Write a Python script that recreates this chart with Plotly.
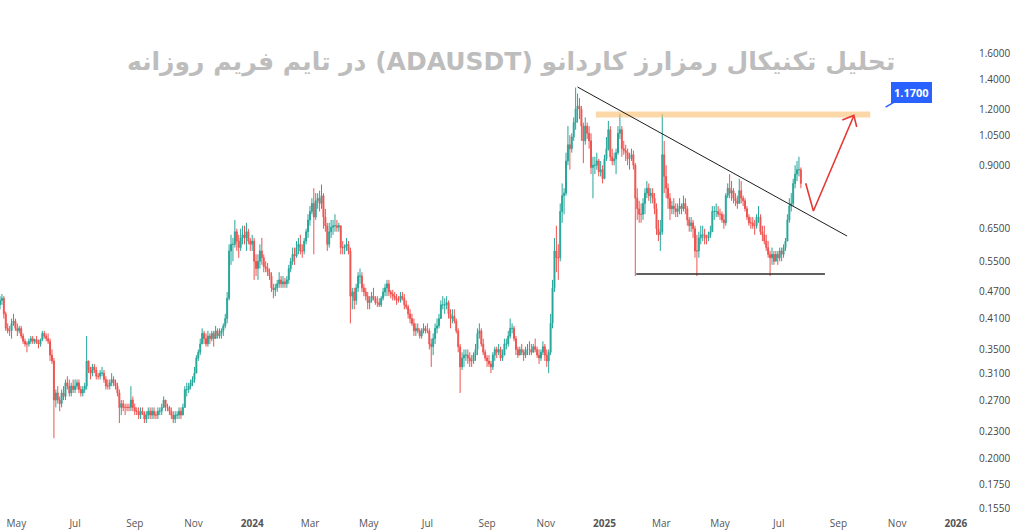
import math
import pandas as pd
import plotly.graph_objects as go

# ---------------- data (2-day candles, ADAUSDT) ----------------
START = "2023-04-14"
first_open = 0.44

close = [
    .45, .455, .42, .39, .385, .385, .40, .405, .39,
    .385, .39, .375, .365, .36, .36, .365, .37, .365, .368, .362, .36, .368, .38, .375,
    .37, .365, .34, .33, .27, .28, .27, .265, .28, .275, .295, .29, .28, .29, .285,
    .29, .295, .285, .28, .285, .29, .33, .315, .31, .32, .315, .305, .305, .31, .31, .30,
    .29, .29, .295, .30, .295, .29, .28, .26, .265, .26, .26, .26, .26, .27, .26,
    .255, .255, .25, .255, .252, .245, .25, .255, .25, .255, .25, .25, .255, .255, .26,
    .27, .26, .26, .255, .25, .245, .25, .25, .255, .25, .26, .285, .285, .29, .295, .30,
    .31, .335, .345, .36, .38, .37, .36, .375, .37, .38, .37, .385, .375, .38, .385,
    .395, .41, .455, .58, .60, .60, .64, .61, .59, .62, .63, .62, .64, .61, .60,
    .61, .55, .53, .55, .58, .56, .535, .53, .52, .51, .48, .475, .48, .49, .50, .49,
    .495, .49, .50, .53, .55, .57, .565, .59, .60, .58, .58, .61, .64, .68,
    .71, .74, .69, .75, .76, .74, .77, .69, .66, .60, .64, .655, .66, .66, .655, .66,
    .59, .59, .595, .60, .58, .46, .47, .45, .48, .51, .51, .48, .47, .46, .445,
    .45, .46, .455, .445, .445, .44, .455, .47, .48, .49, .47, .465, .46, .455, .45,
    .45, .46, .455, .44, .435, .42, .41, .40, .385, .39, .385, .375, .385, .39, .385,
    .385, .36, .355, .37, .39, .395, .41, .44, .44, .44, .445, .42, .41, .415, .405, .385,
    .355, .32, .335, .34, .34, .335, .33, .33, .34, .35, .38, .385, .36, .345, .335,
    .33, .325, .32, .34, .35, .345, .35, .335, .34, .36, .36, .375, .39, .39, .37,
    .35, .34, .35, .345, .34, .35, .35, .35, .345, .355, .35, .34, .335, .345, .355, .34,
    .33, .345, .40, .48, .58, .56, .56, .71, .77, .78, .92, 1.00, .98, 1.04, 1.12,
    1.20, 1.22, 1.20, 1.10, 1.02, 1.10, 1.06, 1.02, .89, .90, .90, .92, .87, .88, .84,
    .93, .98, 1.08, .94, .92, .93, .96, 1.06, 1.08, .98, .97, .96, .93, .93, .95, .90,
    .76, .72, .70, .70, .74, .78, .80, .77, .78, .76, .72, .65, .63, .64,
    .95, .85, .80, .76, .72, .73, .72, .71, .72, .73, .72, .74, .72, .68, .66,
    .67, .65, .58, .58, .62, .63, .63, .62, .62, .63, .64, .71, .71, .71, .70,
    .70, .68, .67, .77, .80, .78, .79, .76, .75, .74, .79, .76, .75, .72, .69, .67,
    .67, .66, .66, .69, .69, .64, .63, .61, .59, .57, .56, .57, .55, .57, .56,
    .58, .57, .59, .61, .68, .73, .74, .82, .86, .88, .88, .82,
]

high = [
    .46, .465, .46, .425, .40, .395, .41, .42, .41,
    .40, .395, .395, .38, .37, .365, .37, .375, .375, .37, .375, .368, .37, .385, .385,
    .38, .38, .37, .35, .335, .285, .29, .275, .285, .29, .30, .305, .30, .295, .30,
    .30, .30, .30, .29, .29, .295, .375, .33, .32, .325, .325, .32, .31, .315, .32, .315,
    .305, .30, .30, .31, .305, .30, .295, .285, .27, .27, .265, .265, .265, .29, .275,
    .265, .26, .26, .26, .26, .255, .255, .26, .26, .26, .26, .255, .26, .26, .265,
    .275, .27, .265, .262, .26, .255, .255, .255, .26, .26, .265, .29, .295, .295, .30, .305,
    .32, .34, .35, .37, .39, .385, .38, .385, .38, .385, .385, .395, .39, .39, .39,
    .40, .42, .47, .60, .63, .62, .68, .65, .63, .65, .66, .66, .67, .65, .62,
    .63, .62, .57, .57, .60, .62, .57, .55, .545, .53, .52, .49, .49, .50, .52, .51,
    .51, .505, .51, .54, .56, .59, .59, .61, .62, .63, .60, .62, .65, .70,
    .73, .76, .80, .78, .78, .79, .815, .78, .72, .67, .67, .68, .68, .70, .68, .67,
    .66, .61, .60, .62, .61, .59, .48, .48, .49, .52, .53, .52, .49, .48, .47,
    .46, .47, .48, .46, .46, .455, .46, .48, .49, .50, .50, .475, .475, .47, .465,
    .46, .47, .47, .465, .45, .44, .43, .42, .41, .40, .40, .39, .39, .40, .395,
    .40, .39, .37, .38, .40, .41, .42, .45, .46, .455, .46, .45, .43, .43, .43, .41,
    .39, .36, .345, .35, .35, .35, .345, .34, .345, .36, .39, .40, .39, .37, .35,
    .34, .34, .33, .345, .355, .355, .36, .355, .35, .37, .37, .385, .41, .40, .395,
    .375, .355, .355, .36, .35, .355, .36, .365, .36, .36, .37, .355, .35, .35, .365, .36,
    .35, .35, .42, .50, .62, .66, .60, .74, .82, .80, .96, 1.10, 1.05, 1.06, 1.15,
    1.34, 1.30, 1.27, 1.22, 1.12, 1.15, 1.12, 1.10, 1.06, .94, .94, .96, .93, .92, .90,
    .95, 1.04, 1.13, 1.10, .98, .96, .98, 1.10, 1.17, 1.10, 1.02, 1.00, .98, .96, .98, .97,
    .91, .80, .75, .74, .76, .80, .83, .82, .80, .80, .78, .74, .68, .68,
    1.17, 1.02, .90, .82, .78, .75, .76, .74, .74, .76, .74, .77, .76, .73, .69,
    .69, .68, .66, .63, .64, .66, .66, .65, .63, .64, .66, .73, .73, .74, .73,
    .72, .71, .70, .78, .82, .86, .83, .80, .78, .77, .84, .83, .77, .76, .73, .70,
    .69, .69, .68, .70, .73, .70, .66, .66, .63, .61, .58, .59, .58, .58, .58,
    .59, .59, .60, .62, .70, .76, .78, .84, .90, .92, .94, .89,
]

low = [
    .43, .44, .41, .385, .38, .375, .37, .395, .385,
    .375, .38, .37, .36, .355, .345, .355, .36, .36, .36, .36, .352, .355, .365, .37,
    .365, .36, .33, .325, .222, .26, .265, .255, .26, .27, .27, .285, .275, .275, .28,
    .28, .285, .28, .275, .275, .28, .285, .31, .30, .305, .31, .30, .30, .30, .305, .295,
    .285, .285, .285, .29, .29, .285, .275, .24, .25, .255, .25, .255, .255, .255, .255,
    .25, .25, .245, .245, .25, .24, .24, .245, .245, .245, .245, .245, .245, .25, .25,
    .26, .255, .255, .25, .245, .24, .24, .245, .245, .245, .25, .26, .275, .28, .285, .29,
    .295, .31, .33, .34, .36, .36, .355, .355, .36, .365, .355, .37, .37, .37, .37,
    .375, .39, .40, .45, .54, .55, .59, .58, .56, .58, .60, .60, .58, .60, .58,
    .58, .50, .51, .50, .53, .54, .52, .52, .51, .50, .47, .455, .46, .47, .48, .48,
    .48, .48, .48, .49, .52, .54, .54, .56, .57, .57, .56, .57, .60, .62,
    .66, .70, .57, .68, .72, .71, .72, .65, .64, .58, .59, .62, .63, .64, .64, .64,
    .57, .57, .57, .58, .57, .40, .43, .43, .44, .47, .49, .47, .46, .45, .43,
    .43, .445, .45, .44, .435, .435, .435, .45, .46, .46, .46, .455, .45, .45, .44,
    .445, .445, .45, .43, .43, .41, .40, .395, .375, .375, .38, .37, .37, .38, .38,
    .38, .35, .32, .34, .36, .38, .39, .41, .43, .42, .43, .41, .39, .40, .40, .38,
    .345, .28, .315, .32, .33, .325, .32, .32, .325, .33, .34, .37, .355, .34, .33,
    .32, .32, .31, .315, .33, .335, .34, .33, .33, .34, .35, .355, .37, .38, .365,
    .34, .335, .34, .34, .33, .335, .34, .34, .34, .345, .345, .335, .325, .33, .34, .33,
    .32, .31, .34, .39, .47, .52, .50, .55, .67, .70, .77, .90, .88, .96, 1.02,
    1.08, 1.12, 1.14, 1.02, .91, 1.00, 1.03, .98, .86, .76, .86, .88, .85, .85, .82,
    .84, .92, .97, .92, .90, .90, .86, .95, 1.03, .94, .95, .92, .90, .88, .92, .88,
    .51, .68, .67, .67, .68, .70, .76, .75, .74, .74, .70, .63, .61, .58,
    .63, .78, .76, .72, .68, .70, .70, .69, .69, .70, .70, .71, .70, .66, .64,
    .64, .62, .56, .51, .56, .60, .61, .60, .60, .61, .62, .64, .68, .69, .69,
    .68, .67, .65, .66, .76, .76, .75, .74, .73, .72, .74, .74, .73, .71, .68, .66,
    .65, .65, .63, .65, .67, .63, .61, .60, .58, .56, .51, .54, .54, .55, .54,
    .55, .55, .56, .58, .61, .67, .71, .73, .80, .83, .85, .80,
]

# axis ticks
y_ticks = [0.155, 0.175, 0.20, 0.23, 0.27, 0.31, 0.35, 0.41, 0.47, 0.55,
           0.65, 0.90, 1.05, 1.20, 1.40, 1.60]
x_tick_dates = ["2023-05-01", "2023-07-01", "2023-09-01", "2023-11-01", "2024-01-01",
                "2024-03-01", "2024-05-01", "2024-07-01", "2024-09-01", "2024-11-01",
                "2025-01-01", "2025-03-01", "2025-05-01", "2025-07-01", "2025-09-01",
                "2025-11-01", "2026-01-01"]
x_tick_text = ["May", "Jul", "Sep", "Nov", "<b>2024</b>", "Mar", "May", "Jul", "Sep",
               "Nov", "<b>2025</b>", "Mar", "May", "Jul", "Sep", "Nov", "<b>2026</b>"]

# drawings (date, price)
trend_x, trend_y = ["2024-12-04", "2025-09-10"], [1.344, 0.626]
support_x, support_y = ["2025-02-03", "2025-08-18"], [0.515, 0.515]
band_x, band_y = ["2024-12-23", "2025-10-04"], [1.168, 1.168]
arrow_x, arrow_y = ["2025-07-29", "2025-08-06", "2025-09-17"], [0.821, 0.712, 1.160]
head_x, head_y = ["2025-09-05", "2025-09-17", "2025-09-20"], [1.135, 1.162, 1.095]
label_x, label_y, label_text = "2025-10-20", 1.213, "1.1700"
title_text = "تحلیل تکنیکال رمزارز کاردانو (ADAUSDT) در تایم فریم روزانه"

# ---------------- figure ----------------
dates = pd.date_range(START, periods=len(close), freq="2D")
open_ = [first_open] + close[:-1]

UP, DOWN = "#26a69a", "#ef5350"
BLUE = "#2962ff"

fig = go.Figure()
fig.add_trace(go.Candlestick(
    x=dates, open=open_, high=high, low=low, close=close,
    increasing=dict(line=dict(color=UP, width=1), fillcolor=UP),
    decreasing=dict(line=dict(color=DOWN, width=1), fillcolor=DOWN),
    whiskerwidth=0, showlegend=False, hoverinfo="skip"))

fig.add_trace(go.Scatter(x=band_x, y=band_y, mode="lines",
                         line=dict(color="rgba(250,190,110,0.6)", width=6),
                         showlegend=False, hoverinfo="skip"))
fig.add_trace(go.Scatter(x=trend_x, y=trend_y, mode="lines",
                         line=dict(color="#1e1e1e", width=1),
                         showlegend=False, hoverinfo="skip"))
fig.add_trace(go.Scatter(x=support_x, y=support_y, mode="lines",
                         line=dict(color="#2b2b2b", width=1.5),
                         showlegend=False, hoverinfo="skip"))
fig.add_trace(go.Scatter(x=arrow_x, y=arrow_y, mode="lines",
                         line=dict(color="#e53935", width=1.6),
                         showlegend=False, hoverinfo="skip"))
fig.add_trace(go.Scatter(x=head_x, y=head_y, mode="lines",
                         line=dict(color="#e53935", width=1.6),
                         showlegend=False, hoverinfo="skip"))

fig.add_annotation(x=label_x, y=math.log10(label_y), xref="x", yref="y",
                   text="<b>" + label_text + "</b>", showarrow=True, arrowhead=0,
                   arrowwidth=1.5, arrowcolor=BLUE, ax=26, ay=-15,
                   bgcolor=BLUE, bordercolor=BLUE, borderpad=2,
                   font=dict(color="white", size=11, family="Open Sans"))

fig.add_annotation(x=0.5225, y=0.88, xref="paper", yref="paper",
                   text="<b>\u202b" + title_text + "\u202c</b>", showarrow=False,
                   xanchor="center", yanchor="middle",
                   font=dict(color="#bdbdbd", size=25, family="DejaVu Sans"))

fig.update_layout(
    width=1024, height=532,
    margin=dict(l=0, r=46, t=0, b=16),
    paper_bgcolor="white", plot_bgcolor="white",
    showlegend=False,
    xaxis=dict(type="date", range=["2023-04-14", "2026-01-24"],
               rangeslider=dict(visible=False), showgrid=False, zeroline=False,
               showline=False, ticks="", tickvals=x_tick_dates, ticktext=x_tick_text,
               tickfont=dict(size=10, color="#555555", family="Open Sans")),
    yaxis=dict(type="log", range=[math.log10(0.149), math.log10(2.10)], side="right",
               showgrid=False, zeroline=False, showline=False, ticks="",
               tickvals=y_ticks, ticktext=["%.4f" % v for v in y_ticks],
               tickfont=dict(size=10, color="#444444", family="Open Sans")),
)

fig.write_html("out.html")
